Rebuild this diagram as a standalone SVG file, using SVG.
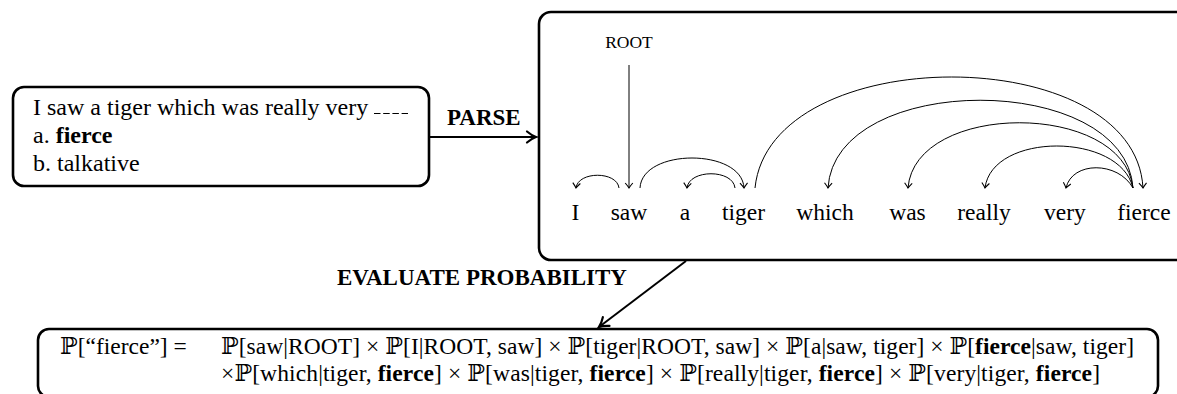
<svg xmlns="http://www.w3.org/2000/svg" width="1177" height="394" viewBox="0 0 1177 394">
<defs>
<style>
text{font-family:'Liberation Serif','DejaVu Serif',serif;fill:#000}
.t{font-size:24px}
.f{font-size:23.5px}
.w{font-size:23.5px;text-anchor:middle}
.root{font-size:17.5px;text-anchor:middle}
.b{font-weight:bold}
.lab{font-size:23px;font-weight:bold}
.box{fill:none;stroke:#000;stroke-width:2.6}
.arc{fill:none;stroke:#000;stroke-width:1}
.thick{fill:none;stroke:#000;stroke-width:2}
</style>
<marker id="dep" markerUnits="userSpaceOnUse" viewBox="-8 -6 12 12" refX="0" refY="0" markerWidth="12" markerHeight="12" orient="auto" overflow="visible">
<path d="M-5,-3.8 Q-1.6,-0.9 0,0 Q-1.6,0.9 -5,3.8" fill="none" stroke="#000" stroke-width="1.1"/>
</marker>
<marker id="big" markerUnits="userSpaceOnUse" viewBox="-12 -8 16 16" refX="0" refY="0" markerWidth="16" markerHeight="16" orient="auto" overflow="visible">
<path d="M-9,-5.5 Q-4,-1.3 0,0 Q-4,1.3 -9,5.5" fill="none" stroke="#000" stroke-width="2.2" stroke-linecap="round"/>
</marker>
</defs>

<g id="input-box">
<rect class="box" x="13" y="87" width="416" height="99" rx="11"/>
<text class="t" x="33" y="115">I saw a tiger which was really very</text>
<line x1="374" y1="113.5" x2="408" y2="113.5" stroke="#000" stroke-width="1" stroke-dasharray="6.5,2.7"/>
<text class="t" x="33" y="143">a. <tspan class="b">fierce</tspan></text>
<text class="t" x="33" y="171">b. talkative</text>
</g>

<g id="parse-box">
<rect class="box" x="539" y="12" width="700" height="248" rx="12"/>
<text class="root" x="629" y="48">ROOT</text>
<text class="w" x="575.5" y="220">I</text>
<text class="w" x="629" y="220">saw</text>
<text class="w" x="685" y="220">a</text>
<text class="w" x="743.5" y="220">tiger</text>
<text class="w" x="825" y="220">which</text>
<text class="w" x="907.5" y="220">was</text>
<text class="w" x="984" y="220">really</text>
<text class="w" x="1065" y="220">very</text>
<text class="w" x="1144" y="220">fierce</text>
</g>

<g id="dependency-arcs">
<path class="arc" marker-end="url(#dep)" d="M629,65 L629,188"/>
<path class="arc" marker-end="url(#dep)" d="M619,188 C617,171 578,171 576,188"/>
<path class="arc" marker-end="url(#dep)" d="M640,188 C642,148 742,148 744,188"/>
<path class="arc" marker-end="url(#dep)" d="M735,188 C733,169 689,169 687,188"/>
<path class="arc" marker-end="url(#dep)" d="M755,188 C770,40 1135,40 1143,188"/>
<path class="arc" marker-end="url(#dep)" d="M1133,188 C1125,71 835,71 828,188"/>
<path class="arc" marker-end="url(#dep)" d="M1133,188 C1123,101 915,101 908,188"/>
<path class="arc" marker-end="url(#dep)" d="M1133,188 C1120,132 992,132 985,188"/>
<path class="arc" marker-end="url(#dep)" d="M1133,188 C1118,161 1072,161 1066,188"/>
</g>

<g id="formula-box">
<rect class="box" x="38" y="329" width="1120" height="68" rx="11"/>
<text class="f" x="60" y="354">ℙ[“fierce”] =</text>
<text class="f" x="221" y="354" textLength="913" lengthAdjust="spacing">ℙ[saw|ROOT] × ℙ[I|ROOT, saw] × ℙ[tiger|ROOT, saw] × ℙ[a|saw, tiger] × ℙ[<tspan class="b">fierce</tspan>|saw, tiger]</text>
<text class="f" x="221" y="381" textLength="879" lengthAdjust="spacing">×ℙ[which|tiger, <tspan class="b">fierce</tspan>] × ℙ[was|tiger, <tspan class="b">fierce</tspan>] × ℙ[really|tiger, <tspan class="b">fierce</tspan>] × ℙ[very|tiger, <tspan class="b">fierce</tspan>]</text>
</g>

<g id="connectors">
<path class="thick" marker-end="url(#big)" d="M429,137 L536,137"/>
<text class="lab" x="447" y="125">PARSE</text>
<path class="thick" marker-end="url(#big)" d="M686,261 L599,327"/>
<text class="lab" x="337" y="285">EVALUATE PROBABILITY</text>
</g>
</svg>
